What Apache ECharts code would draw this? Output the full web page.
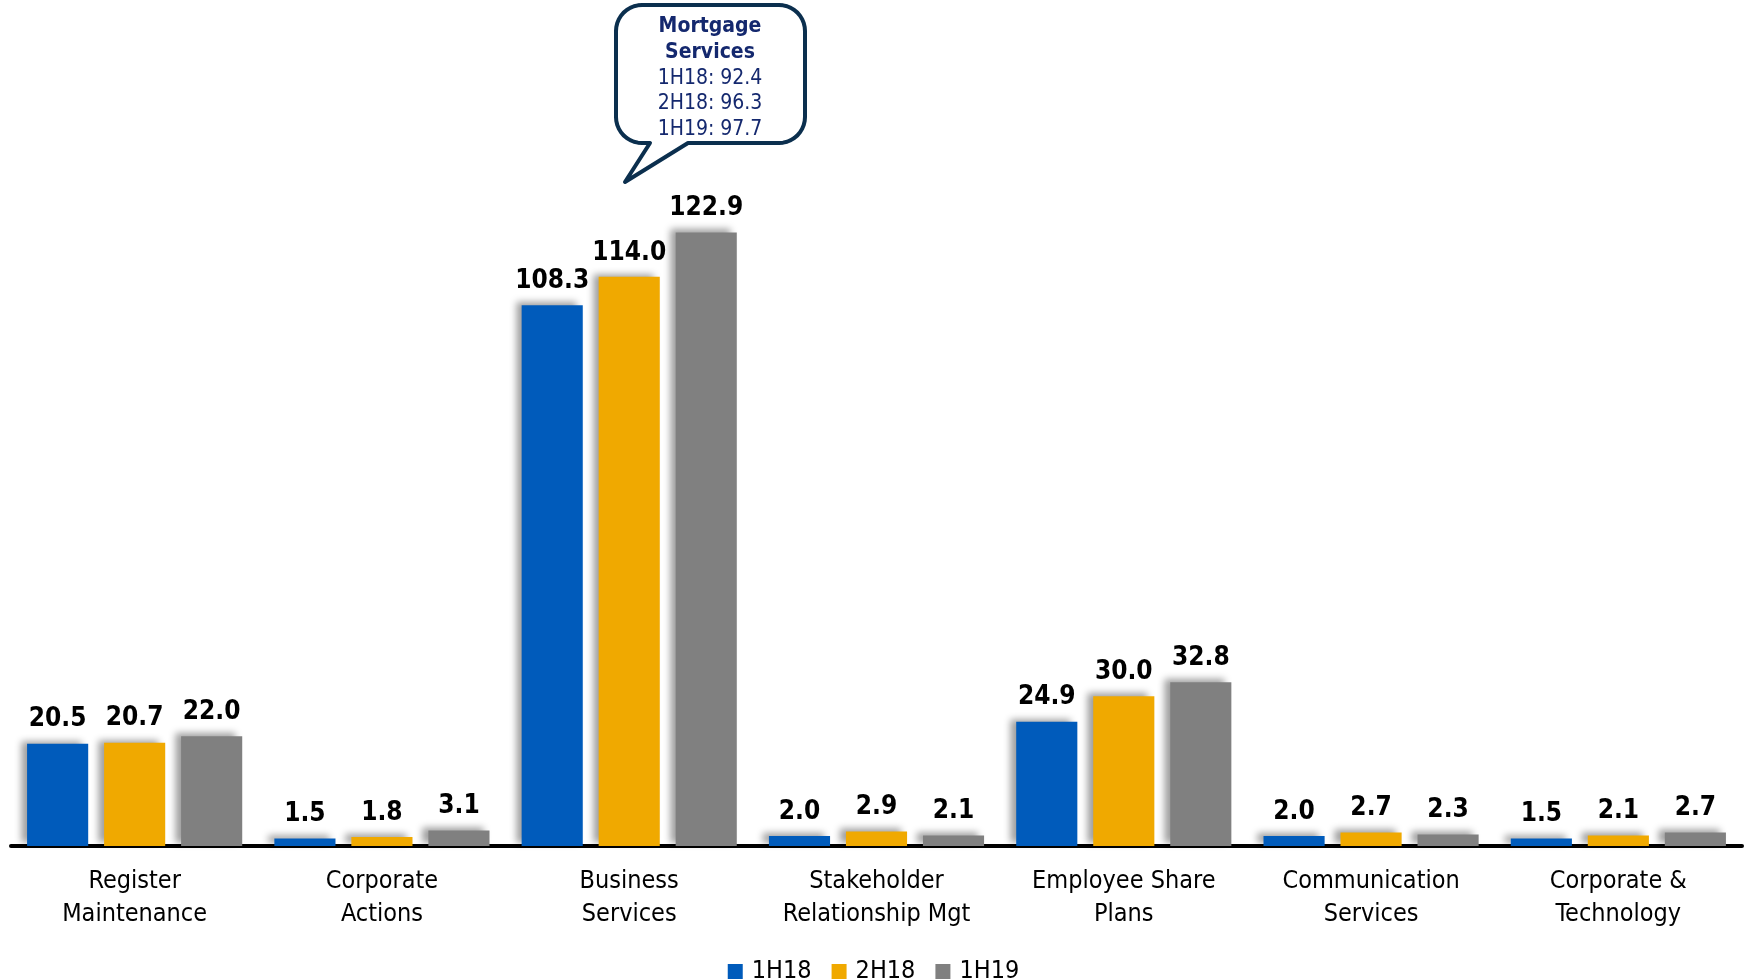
<!DOCTYPE html>
<html>
<head>
<meta charset="utf-8">
<script src="https://cdn.jsdelivr.net/npm/echarts@6/dist/echarts.min.js"></script>
<style>
  html, body { margin: 0; padding: 0; background: #ffffff; }
  #chart { width: 1747px; height: 980px; }
</style>
</head>
<body>
<div id="chart"></div>
<script>
// Revenue by business line, per half-year period
const categories = [
  'Register\nMaintenance',
  'Corporate\nActions',
  'Business\nServices',
  'Stakeholder\nRelationship Mgt',
  'Employee Share\nPlans',
  'Communication\nServices',
  'Corporate &\nTechnology'
];
const periods = ['1H18', '2H18', '1H19'];
const values1H18 = [20.5, 1.5, 108.3, 2.0, 24.9, 2.0, 1.5];
const values2H18 = [20.7, 1.8, 114.0, 2.9, 30.0, 2.7, 2.1];
const values1H19 = [22.0, 3.1, 122.9, 2.1, 32.8, 2.3, 2.7];
const seriesColors = ['#005bbb', '#f0a900', '#808080'];

// Mortgage Services breakdown shown in the callout
const calloutTitle = ['Mortgage', 'Services'];
const mortgageValues = [92.4, 96.3, 97.7];

const FONT = '"DejaVu Sans Condensed", "DejaVu Sans", Verdana, sans-serif';

const chart = echarts.init(document.getElementById('chart'), null, { renderer: 'canvas' });

const seriesData = [values1H18, values2H18, values1H19];

const series = periods.map((name, i) => ({
  name: name,
  type: 'bar',
  data: seriesData[i],
  barGap: '26%',
  barCategoryGap: '13%',
  itemStyle: {
    color: seriesColors[i],
    shadowColor: 'rgba(0,0,0,0.38)',
    shadowBlur: 7,
    shadowOffsetX: -6,
    shadowOffsetY: -3
  },
  label: {
    show: true,
    position: 'top',
    distance: 11,
    color: '#000000',
    fontFamily: FONT,
    fontWeight: 'bold',
    fontSize: 26,
    formatter: p => p.value.toFixed(1)
  }
}));

// Speech-bubble outline: rounded box with a tail pointing down-left
function bubblePoints(x0, y0, x1, y1, r, tail) {
  const pts = [];
  const arc = (cx, cy, a0, a1) => {
    const n = 10;
    for (let k = 0; k <= n; k++) {
      const a = a0 + (a1 - a0) * k / n;
      pts.push([cx + r * Math.cos(a), cy + r * Math.sin(a)]);
    }
  };
  arc(x0 + r, y0 + r, Math.PI, Math.PI * 1.5);     // top-left
  arc(x1 - r, y0 + r, Math.PI * 1.5, Math.PI * 2); // top-right
  arc(x1 - r, y1 - r, 0, Math.PI * 0.5);           // bottom-right
  pts.push([tail.right, y1]);
  pts.push([tail.tipX, tail.tipY]);
  pts.push([tail.left, y1]);
  arc(x0 + r, y1 - r, Math.PI * 0.5, Math.PI);     // bottom-left
  return pts;
}

const bubble = bubblePoints(616, 5, 805, 143, 26, { left: 650, right: 688, tipX: 625, tipY: 182 });

const calloutLines = [
  { text: calloutTitle[0], bold: true, y: 27 },
  { text: calloutTitle[1], bold: true, y: 53 },
  { text: periods[0] + ': ' + mortgageValues[0].toFixed(1), bold: false, y: 79 },
  { text: periods[1] + ': ' + mortgageValues[1].toFixed(1), bold: false, y: 104 },
  { text: periods[2] + ': ' + mortgageValues[2].toFixed(1), bold: false, y: 130 }
];

const graphics = [{
  type: 'polygon',
  shape: { points: bubble },
  style: { fill: '#ffffff', stroke: '#0b2f4e', lineWidth: 4, lineJoin: 'round' },
  z: 10
}].concat(calloutLines.map(l => ({
  type: 'text',
  x: 710,
  y: l.y,
  z: 11,
  style: {
    text: l.text,
    fill: '#14286e',
    font: (l.bold ? 'bold ' : '') + '21px ' + FONT,
    align: 'center',
    verticalAlign: 'middle'
  }
})));

chart.setOption({
  animation: false,
  backgroundColor: '#ffffff',
  grid: { left: 11, right: 5, top: 147, bottom: 134, containLabel: false },
  legend: {
    data: periods,
    top: 954,
    left: 'center',
    itemWidth: 15,
    itemHeight: 15,
    itemGap: 20,
    icon: 'rect',
    textStyle: { fontFamily: FONT, fontSize: 25, color: '#000000', padding: [0, 0, 0, 4] }
  },
  xAxis: {
    type: 'category',
    data: categories,
    axisLine: { show: true, lineStyle: { color: '#000000', width: 4 } },
    axisTick: { show: false },
    axisLabel: {
      margin: 19,
      interval: 0,
      color: '#000000',
      fontFamily: FONT,
      fontSize: 25,
      lineHeight: 33
    }
  },
  yAxis: {
    type: 'value',
    min: 0,
    max: 140,
    show: false,
    splitLine: { show: false }
  },
  series: series,
  graphic: graphics
});
</script>
</body>
</html>
